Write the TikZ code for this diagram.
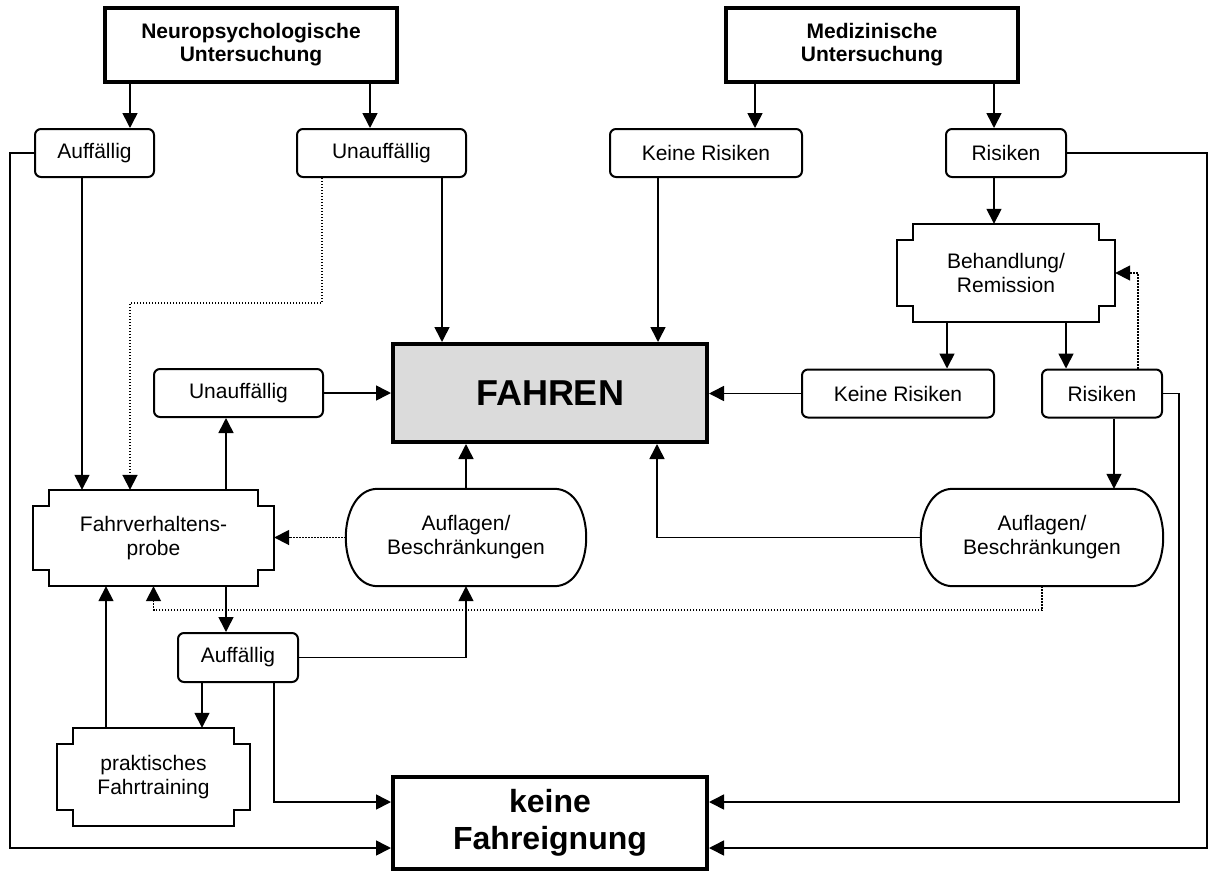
\documentclass[tikz,border=0pt]{standalone}
\usepackage{fontspec}
\setmainfont{Liberation Sans}
\usetikzlibrary{arrows.meta, calc}

\newcommand{\normfont}{\fontsize{21}{24}\selectfont}
\newcommand{\headfont}{\fontsize{21}{23}\selectfont\bfseries}
\newcommand{\fahrenfont}{\fontsize{36}{40}\selectfont\bfseries}
\newcommand{\keinfont}{\fontsize{32}{37}\selectfont\bfseries}

% outline of the boxes with stepped corners
\newcommand{\stepoutline}[1]{%
  \draw[line width=2pt] ($(#1.north west)+(16,0)$) -- ($(#1.north east)+(-16,0)$)
    -- ++(0,16) -- ($(#1.north east)+(0,16)$) -- ($(#1.south east)+(0,-16)$)
    -- ++(-16,0) -- ($(#1.south east)+(-16,0)$) -- ($(#1.south west)+(16,0)$)
    -- ++(0,-16) -- ($(#1.south west)+(0,-16)$) -- ($(#1.north west)+(0,16)$)
    -- ++(16,0) -- cycle;}

% outline of the boxes with bulging ends
\newcommand{\pilloutline}[1]{%
  \draw[line width=2pt] ($(#1.north west)+(32,0)$) -- ($(#1.north east)+(-32,0)$)
    .. controls +(42.7,0) and +(42.7,0) .. ($(#1.south east)+(-32,0)$)
    -- ($(#1.south west)+(32,0)$)
    .. controls +(-42.7,0) and +(-42.7,0) .. ($(#1.north west)+(32,0)$) -- cycle;}

\begin{document}
\begin{tikzpicture}[
  x=1pt, y=-1pt,
  smallbox/.style={rectangle, draw, line width=2pt, rounded corners=6pt,
                   minimum height=48pt, inner sep=0pt, align=center, font=\normfont},
  bigbox/.style={rectangle, draw, line width=4pt, inner sep=0pt, align=center},
  stepbox/.style={rectangle, inner sep=0pt, align=center, font=\normfont},
  pillbox/.style={rectangle, inner sep=0pt, align=center, font=\normfont,
                  minimum width=240pt, minimum height=97pt},
  arrow/.style={-{Triangle[length=15pt, width=15pt]}, line width=1.6pt},
  dotarrow/.style={arrow, line width=1.8pt, dash pattern=on 1.4pt off 1.6pt}
]
\useasboundingbox (0,0) rectangle (1208,873);

% top row
\node[bigbox, font=\headfont, minimum width=292pt, minimum height=74pt] (neuro) at (251,45) {Neuropsychologische\\Untersuchung};
\node[bigbox, font=\headfont, minimum width=292pt, minimum height=74pt] (medi) at (872,45) {Medizinische\\Untersuchung};

\node[smallbox, minimum width=119pt] (auff1) at (94.5,153) {Auffällig};
\node[smallbox, minimum width=169pt] (unauff1) at (381.5,153) {Unauffällig};
\node[smallbox, minimum width=192pt] (keine1) at (706,153) {Keine Risiken};
\node[smallbox, minimum width=120pt] (risk1) at (1006,153) {Risiken};

\node[stepbox, minimum width=218pt, minimum height=98pt] (behand) at (1006,273) {Behandlung/\\Remission};
\stepoutline{behand}

% middle
\node[bigbox, font=\fahrenfont, fill=black!14, minimum width=314pt, minimum height=98pt] (fahren) at (550,393) {FAHREN};
\node[smallbox, minimum width=169pt] (unauff2) at (238.5,393) {Unauffällig};
\node[smallbox, minimum width=192pt] (keine2) at (898,393.5) {Keine Risiken};
\node[smallbox, minimum width=120pt] (risk2) at (1102,393.5) {Risiken};

\node[stepbox, minimum width=241pt, minimum height=96pt] (probe) at (153.5,538) {Fahrverhaltens-\\probe};
\stepoutline{probe}
\node[pillbox] (aufl1) at (466,537.5) {Auflagen/\\Beschränkungen};
\pilloutline{aufl1}
\node[pillbox, minimum width=242pt] (aufl2) at (1042,537.5) {Auflagen/\\Beschränkungen};
\pilloutline{aufl2}

% bottom
\node[smallbox, minimum width=120pt, minimum height=49pt] (auff2) at (238,657.5) {Auffällig};
\node[stepbox, minimum width=193pt, minimum height=98pt] (prakt) at (153.5,777) {praktisches\\Fahrtraining};
\stepoutline{prakt}
\node[bigbox, font=\keinfont, minimum width=314pt, minimum height=92pt] (keinfahr) at (550,823) {keine\\Fahreignung};

% connectors from the examinations
\draw[arrow] ([xshift=35.5pt]auff1.north |- neuro.south) -- ([xshift=35.5pt]auff1.north);
\draw[arrow] ([xshift=-11.5pt]unauff1.north |- neuro.south) -- ([xshift=-11.5pt]unauff1.north);
\draw[arrow] ([xshift=49pt]keine1.north |- medi.south) -- ([xshift=49pt]keine1.north);
\draw[arrow] ([xshift=-12pt]risk1.north |- medi.south) -- ([xshift=-12pt]risk1.north);

% outer loops to keine Fahreignung
\draw[arrow] (auff1.west) -- ++(-24,0) |- ([yshift=-25pt]keinfahr.west);
\draw[arrow] (risk1.east) -- ++(140,0) |- ([yshift=-25pt]keinfahr.east);
\draw[arrow] (risk2.east) -- ++(16,0) |- ([yshift=21pt]keinfahr.east);
\draw[arrow] ([xshift=36pt]auff2.south) |- ([yshift=21pt]keinfahr.west);

% into FAHREN
\draw[arrow] ([xshift=60.5pt]unauff1.south) -- ([xshift=60.5pt]unauff1.south |- fahren.north);
\draw[arrow] ([xshift=-48pt]keine1.south) -- ([xshift=-48pt]keine1.south |- fahren.north);
\draw[arrow] (unauff2.east) -- (unauff2.east -| fahren.west);
\draw[arrow] (keine2.west) -- (keine2.west -| fahren.east);
\draw[arrow] (aufl1.north) -- (aufl1.north |- fahren.south);
\draw[arrow] (aufl2.west) -| ([xshift=107pt]fahren.south);

% medical branch
\draw[arrow] ([xshift=-12pt]risk1.south) -- ([xshift=-12pt]behand.north);
\draw[arrow] ([xshift=-59pt]behand.south) -- ([xshift=-59pt]behand.south |- keine2.north);
\draw[arrow] ([xshift=60pt]behand.south) -- ([xshift=60pt]behand.south |- risk2.north);
\draw[dotarrow] ([xshift=36pt]risk2.north) |- (behand.east);
\draw[arrow] ([xshift=12pt]risk2.south) -- ([xshift=12pt]risk2.south |- aufl2.north);
\draw[dotarrow] (aufl2.south) -- ++(0,24) -| (probe.south);

% driving test branch
\draw[arrow] ([xshift=-12.5pt]auff1.south) -- ([xshift=-12.5pt]auff1.south |- probe.north);
\draw[dotarrow] ([xshift=-59.5pt]unauff1.south) -- ++(0,125) -| ([xshift=-23.5pt]probe.north);
\draw[arrow] ([xshift=72.5pt]probe.north) -- ([xshift=72.5pt]probe.north |- unauff2.south);
\draw[arrow] ([xshift=72.5pt]probe.south) -- ([xshift=72.5pt]probe.south |- auff2.north);
\draw[dotarrow] (aufl1.west) -- (aufl1.west -| probe.east);
\draw[arrow] (auff2.east) -| (aufl1.south);
\draw[arrow] ([xshift=-36pt]auff2.south) -- ([xshift=-36pt]auff2.south |- prakt.north);
\draw[arrow] ([xshift=-47.5pt]prakt.north) -- ([xshift=-47.5pt]prakt.north |- probe.south);

\end{tikzpicture}
\end{document}
